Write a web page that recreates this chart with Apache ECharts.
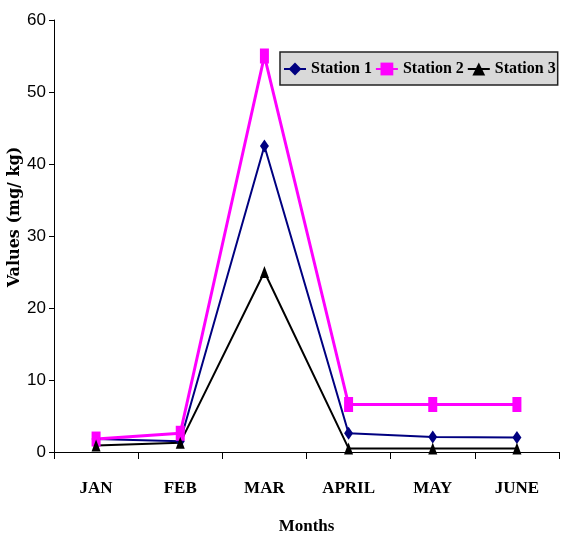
<!DOCTYPE html>
<html>
<head>
<meta charset="utf-8">
<script src="https://cdn.jsdelivr.net/npm/echarts@6/dist/echarts.min.js"></script>
<style>
  html, body { margin: 0; padding: 0; background: #fff; }
  #chart { width: 562px; height: 537px; }
</style>
</head>
<body>
<div id="chart"></div>
<script>
// Monthly values (mg/ kg) at three sampling stations
var months = ['JAN', 'FEB', 'MAR', 'APRIL', 'MAY', 'JUNE'];
var station1 = [1.8, 1.5, 42.5, 2.6, 2.1, 2.0];
var station2 = [1.8, 2.6, 55.0, 6.6, 6.6, 6.6];
var station3 = [0.9, 1.3, 25.0, 0.5, 0.5, 0.5];
var yTicks = [0, 10, 20, 30, 40, 50, 60];

var serifBold = { fontFamily: 'Liberation Serif', fontWeight: 'bold', color: '#000' };

var chart = echarts.init(document.getElementById('chart'), null, { renderer: 'canvas' });

function line(name, data, color, symbol, size, width) {
  return {
    name: name,
    type: 'line',
    data: data,
    symbol: symbol,
    symbolSize: size,
    showSymbol: true,
    itemStyle: { color: color },
    lineStyle: { color: color, width: width },
    emphasis: { disabled: true },
    animation: false
  };
}

chart.setOption({
  animation: false,
  grid: { left: 54, right: 3, top: 20, bottom: 85, outerBoundsMode: 'none', containLabel: false },
  legend: {
    left: 280,
    top: 52,
    backgroundColor: '#d9d9d9',
    borderColor: '#222',
    borderWidth: 1.5,
    padding: [9, 2, 8, 3],
    itemGap: 3,
    itemWidth: 22,
    itemHeight: 16,
    textStyle: { fontFamily: 'Liberation Serif', fontWeight: 'bold', fontSize: 16, color: '#000' },
    data: ['Station 1', 'Station 2', 'Station 3']
  },
  xAxis: {
    type: 'category',
    data: months,
    boundaryGap: true,
    name: 'Months',
    nameLocation: 'middle',
    nameGap: 66,
    nameMoveOverlap: false,
    nameTextStyle: Object.assign({ fontSize: 17 }, serifBold),
    axisLine: { lineStyle: { color: '#000', width: 1 } },
    axisTick: { show: true, alignWithLabel: false, length: 7, lineStyle: { color: '#000' } },
    axisLabel: Object.assign({ fontSize: 17, margin: 28 }, serifBold),
    splitLine: { show: false }
  },
  yAxis: {
    type: 'value',
    min: 0,
    max: 60,
    interval: 10,
    name: 'Values (mg/ kg)',
    nameLocation: 'middle',
    nameGap: 31,
    nameMoveOverlap: false,
    nameRotate: 90,
    nameTextStyle: {
      fontFamily: 'DejaVu Serif', fontWeight: 'bold', fontSize: 16, color: '#000',
      padding: [0, 0, 0, 38]
    },
    axisLine: { show: true, lineStyle: { color: '#000', width: 1 } },
    axisTick: { show: true, length: 5, lineStyle: { color: '#000' } },
    axisLabel: {
      fontFamily: 'Liberation Sans',
      fontSize: 17,
      color: '#000',
      margin: 8,
      formatter: function (v) { return yTicks.indexOf(v) >= 0 ? String(v) : ''; }
    },
    splitLine: { show: false }
  },
  series: [
    line('Station 1', station1, '#000080', 'diamond', [9, 13], 2),
    line('Station 2', station2, '#ff00ff', 'rect', [9, 15], 3),
    line('Station 3', station3, '#000000', 'triangle', [9, 12], 2)
  ]
});
</script>
</body>
</html>
